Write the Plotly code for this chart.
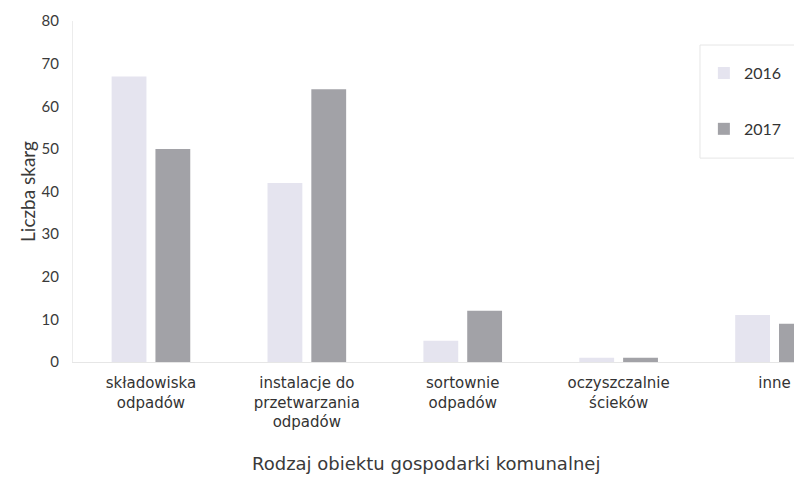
import plotly.graph_objects as go

categories = ["składowiska<br>odpadów", "instalacje do<br>przetwarzania<br>odpadów",
              "sortownie<br>odpadów", "oczyszczalnie<br>ścieków", "inne"]
values_2016 = [67, 42, 5, 1, 11]
values_2017 = [50, 64, 12, 1, 9]
y_ticks = [0, 10, 20, 30, 40, 50, 60, 70, 80]

fig = go.Figure()
fig.add_trace(go.Bar(name="2016", x=categories, y=values_2016,
                     marker=dict(color="#e5e4ef", line=dict(width=0)),
                     legendgroup="a"))
fig.add_trace(go.Bar(name="2017", x=categories, y=values_2017,
                     marker=dict(color="#a2a2a7", line=dict(width=0)),
                     legendgroup="b"))

fig.update_layout(
    width=794, height=481,
    margin=dict(l=73, r=0, t=21, b=119, autoexpand=False),
    paper_bgcolor="white", plot_bgcolor="white",
    barmode="group", bargap=0.438, bargroupgap=0.205,
    font=dict(family="DejaVu Sans, sans-serif", color="#3a3a3a", size=15),
    xaxis=dict(range=[-0.5, 4.125], showgrid=False, showline=True, automargin=False,
               linecolor="#e6e6e6", linewidth=1, ticks="", ticklabelstandoff=7,
               tickfont=dict(family="DejaVu Sans, sans-serif", size=15, color="#333333")),
    yaxis=dict(range=[0, 80], tickvals=y_ticks, showgrid=False, showline=True,
               automargin=False,
               linecolor="#ececec", linewidth=1, ticks="", zeroline=False,
               ticklabelstandoff=10,
               tickfont=dict(family="Lato, sans-serif", size=15, color="#3a3a3a"),
               title=dict(text="Liczba skarg",
                          font=dict(family="Lato, sans-serif", size=19, color="#3a3a3a"),
                          standoff=0)),
    legend=dict(x=0.875, y=0.897, xanchor="left", yanchor="top",
                bgcolor="rgba(0,0,0,0)", borderwidth=0,
                font=dict(family="Lato, sans-serif", size=16, color="#333333"),
                tracegroupgap=32, itemwidth=30),
    showlegend=True,
)
fig.add_shape(type="rect", xref="paper", yref="paper",
              x0=0.8696, x1=1.1, y0=0.598, y1=0.9296,
              line=dict(color="#e6e6e6", width=1), fillcolor="rgba(0,0,0,0)",
              layer="below")
fig.add_annotation(text="Rodzaj obiektu gospodarki komunalnej",
                   xref="paper", yref="paper", x=0.4896, y=0, yshift=-101,
                   showarrow=False, yanchor="middle",
                   font=dict(family="DejaVu Sans, sans-serif", size=18, color="#3a3a3a"))

fig.write_html(
    "out.html",
    config={"displayModeBar": False},
    post_script="document.body.style.margin='0';"
                "document.documentElement.style.overflow='hidden';"
                "document.body.style.overflow='hidden';",
)
